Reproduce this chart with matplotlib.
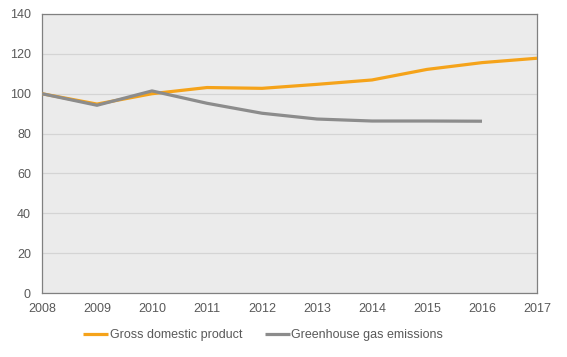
import matplotlib
matplotlib.use("Agg")
import matplotlib.pyplot as plt

years = [2008, 2009, 2010, 2011, 2012, 2013, 2014, 2015, 2016, 2017]
gdp = [100, 94.8, 100.0, 103.1, 102.7, 104.7, 106.9, 112.2, 115.6, 117.8]
ghg_years = [2008, 2009, 2010, 2011, 2012, 2013, 2014, 2015, 2016]
ghg = [100, 94.2, 101.4, 95.2, 90.2, 87.3, 86.3, 86.3, 86.2]
yticks = [0, 20, 40, 60, 80, 100, 120, 140]

plt.rcParams['font.family'] = ['Liberation Sans', 'DejaVu Sans']

fig = plt.figure(figsize=(5.67, 3.57), dpi=100)
ax = fig.add_axes([42/567, 1-293/357, (537-42)/567, (293-14)/357])
ax.set_facecolor('#ebebeb')
ax.plot(years, gdp, color='#f5a31a', lw=2.3, label='Gross domestic product', solid_capstyle='butt', zorder=3)
ax.plot(ghg_years, ghg, color='#8c8c8c', lw=2.3, label='Greenhouse gas emissions', solid_capstyle='butt', zorder=3)
ax.set_xlim(2008, 2017)
ax.set_ylim(0, 140)
ax.set_yticks(yticks)
ax.set_xticks(years)
ax.grid(axis='y', color='#d4d4d4', lw=0.9)
ax.set_axisbelow(True)
for s in ax.spines.values():
    s.set_color('#808080')
    s.set_linewidth(0.9)
ax.tick_params(length=0, labelsize=9, colors='#595959')
ax.tick_params(axis='y', pad=8)
ax.tick_params(axis='x', pad=7)
fig.legend(loc='center', bbox_to_anchor=(263/567, 1-335/357), ncol=2, frameon=False,
           fontsize=9, handlelength=2.0, handletextpad=0.1, columnspacing=1.8,
           labelcolor='#595959')
fig.savefig('out.png', dpi=100)
